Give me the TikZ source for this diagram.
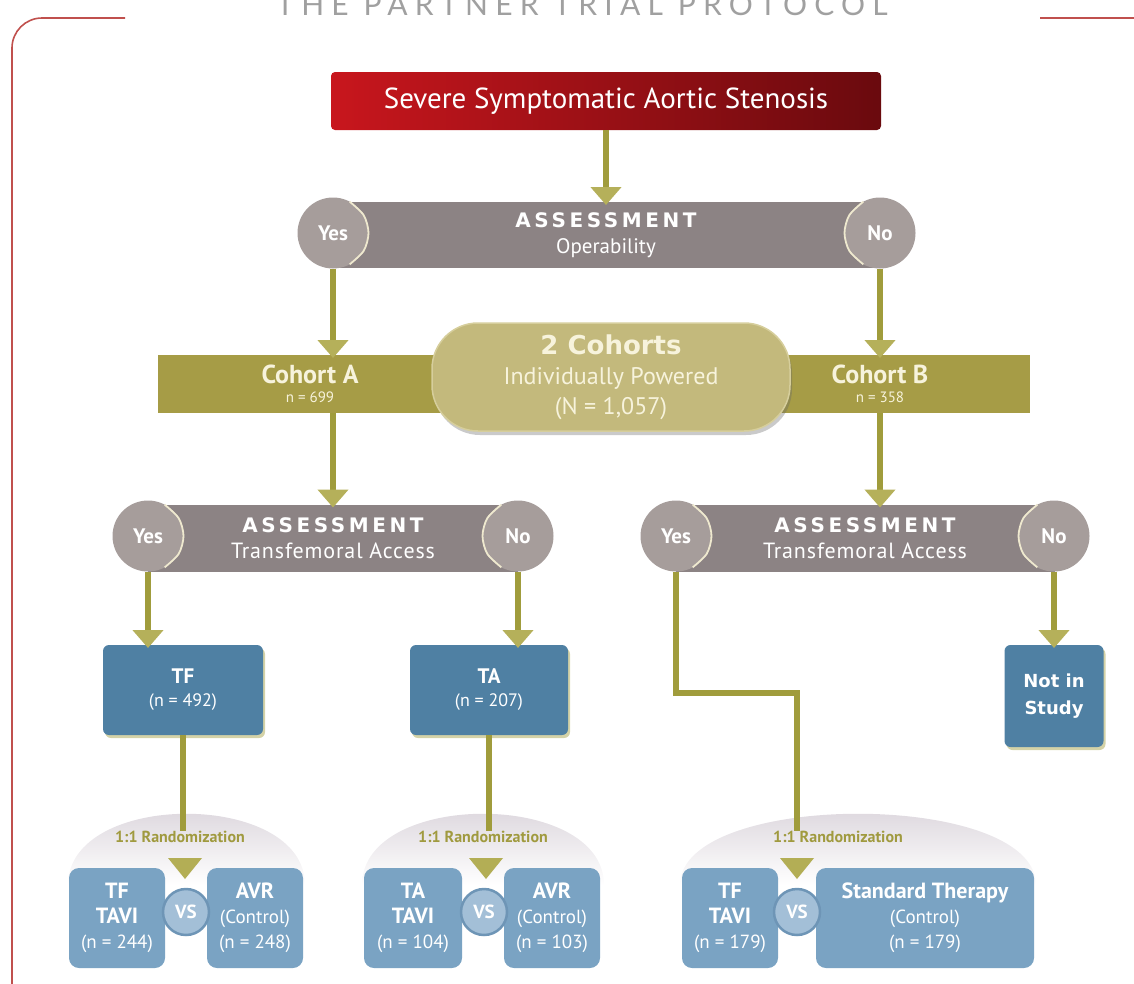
\documentclass[tikz,border=0pt]{standalone}
\usepackage{fontspec}
\setmainfont{PT Sans}
\newfontfamily\spacedfont[LetterSpace=18]{DejaVu Sans}
\newfontfamily\widefont{DejaVu Sans}
\newfontfamily\lsfont[LetterSpace=4]{PT Sans}
\newfontfamily\titlefont[LetterSpace=24]{Lato}
\usetikzlibrary{arrows.meta,shadows,calc}
\definecolor{redL}{HTML}{C8161D}
\definecolor{redR}{HTML}{6A0A0E}
\definecolor{barGrey}{HTML}{8C8384}
\definecolor{circGrey}{HTML}{A69D9B}
\definecolor{creamHL}{HTML}{EFE9CF}
\definecolor{oliveLine}{HTML}{A09C3C}
\definecolor{oliveHead}{HTML}{B5B05A}
\definecolor{cohBar}{HTML}{A69C46}
\definecolor{capsFill}{HTML}{C3B97C}
\definecolor{capsBorder}{HTML}{D6CE9C}
\definecolor{cohText}{HTML}{F7F3DC}
\definecolor{blueD}{HTML}{4F80A3}
\definecolor{blueL}{HTML}{7AA3C3}
\definecolor{vsFill}{HTML}{A3BFD7}
\definecolor{vsBorder}{HTML}{6E95B6}
\definecolor{randC}{HTML}{A09A3F}
\definecolor{triC}{HTML}{B3AE55}
\definecolor{domeC}{HTML}{D5CED6}
\definecolor{frameC}{HTML}{C0504D}
\definecolor{titleC}{HTML}{A0A0A0}
\newcommand\asmt{{\spacedfont\bfseries\fontsize{20}{22}\selectfont ASSESSMENT}}
\newcommand\bx[1]{{\bfseries\fontsize{22}{26}\selectfont #1}}
\begin{document}
\begin{tikzpicture}[x=1pt,y=-1pt,
  every node/.style={inner sep=0pt, outer sep=0pt},
  frameline/.style={draw=frameC, line width=1.6pt, rounded corners=30pt},
  titlestyle/.style={text=titleC, font=\titlefont\fontsize{30}{32}\selectfont},
  redbox/.style={rectangle, rounded corners=4pt, minimum width=550pt, minimum height=58pt,
     left color=redL, right color=redR, text=white, font=\fontsize{29}{32}\selectfont},
  greybar/.style={rectangle, fill=barGrey, minimum height=66pt, text=white, align=center,
     font=\fontsize{21}{26}\selectfont},
  yesno/.style={circle, minimum size=71pt, fill=circGrey, text=white,
     font=\bfseries\fontsize{21}{23}\selectfont},
  hl/.style={draw=creamHL, line width=1.8pt},
  cohbarst/.style={rectangle, fill=cohBar, minimum width=872pt, minimum height=58pt},
  cohlabel/.style={text=cohText, align=center, font=\fontsize{15}{19}\selectfont},
  capsule/.style={rectangle, rounded corners=46pt, minimum width=358pt, minimum height=108pt,
     fill=capsFill, draw=capsBorder, line width=1.5pt, text=cohText, align=center,
     font=\fontsize{24}{30}\selectfont,
     drop shadow={shadow xshift=2pt, shadow yshift=-4pt, opacity=.35, fill=black!60}},
  bluebox/.style={rectangle, rounded corners=6pt, fill=blueD, text=white, align=center,
     font=\fontsize{18}{23}\selectfont,
     drop shadow={shadow xshift=2pt, shadow yshift=-3pt, opacity=.45, fill=oliveLine}},
  lbox/.style={rectangle, rounded corners=10pt, fill=blueL, text=white, align=center,
     minimum height=100pt, font=\fontsize{19}{25}\selectfont},
  vsc/.style={circle, minimum size=46pt, fill=vsFill, draw=vsBorder, line width=2.5pt,
     text=white, font=\bfseries\fontsize{19}{21}\selectfont},
  randst/.style={text=randC, font=\bfseries\fontsize{16}{18}\selectfont},
  conn/.style={draw=oliveLine, line width=6pt},
  arr/.style={conn, -{Triangle[width=30pt,length=18pt,color=oliveHead]}, shorten >=-3pt},
]
\useasboundingbox (0,0) rectangle (1134,983);

% frame and title
\draw[frameline] (125,18) -- (12,18) -- (12,995);
\draw[frameline] (1040,18) -- (1140,18);
\node[titlestyle, anchor=base] (title) at (582,15) {THE PARTNER TRIAL PROTOCOL};

% randomization domes
\shade[top color=domeC, middle color=domeC!35, bottom color=white]
  (68,885) .. controls (68,790) and (305,790) .. (305,885) -- cycle;
\shade[top color=domeC, middle color=domeC!35, bottom color=white]
  (362,885) .. controls (362,790) and (604,790) .. (604,885) -- cycle;
\shade[top color=domeC, middle color=domeC!35, bottom color=white]
  (680,885) .. controls (680,790) and (1036,790) .. (1036,885) -- cycle;

% top box
\node[redbox] (sev) at (606,101) {Severe Symptomatic Aortic Stenosis};

% operability assessment
\node[greybar, minimum width=547pt] (op) at (606,235)
  {\asmt\\{Operability}};
\node[yesno] (yes1) at (333,233) {Yes};
\node[yesno] (no1) at (880,233) {No};
\draw[hl] plot[smooth] coordinates {(yes1.62) (yes1.30) (yes1.0) (yes1.-30) (yes1.-62)};
\draw[hl] plot[smooth] coordinates {(no1.118) (no1.150) (no1.180) (no1.210) (no1.242)};

% cohorts
\node[cohbarst] (cohbar) at (594,384) {};
\node[cohlabel] (cA) at (310,384) {{\bfseries\fontsize{26}{26}\selectfont Cohort A}\\n = 699};
\node[cohlabel] (cB) at (880,384) {{\bfseries\fontsize{26}{26}\selectfont Cohort B}\\n = 358};
\node[capsule] (caps) at (611,377)
  {{\widefont\bfseries\fontsize{26}{26}\selectfont 2 Cohorts}\\Individually Powered\\(N = 1,057)};

% transfemoral assessments
\node[greybar, minimum width=370pt, minimum height=67pt] (bar2L) at (333,538)
  {\asmt\\{\lsfont\fontsize{22}{26}\selectfont Transfemoral Access}};
\node[yesno] (yes2L) at (148,536) {Yes};
\node[yesno] (no2L) at (518,536) {No};
\draw[hl] plot[smooth] coordinates {(yes2L.62) (yes2L.30) (yes2L.0) (yes2L.-30) (yes2L.-62)};
\draw[hl] plot[smooth] coordinates {(no2L.118) (no2L.150) (no2L.180) (no2L.210) (no2L.242)};

\node[greybar, minimum width=379pt, minimum height=67pt] (bar2R) at (865,538)
  {\asmt\\{\lsfont\fontsize{22}{26}\selectfont Transfemoral Access}};
\node[yesno] (yes2R) at (676,536) {Yes};
\node[yesno] (no2R) at (1054,536) {No};
\draw[hl] plot[smooth] coordinates {(yes2R.62) (yes2R.30) (yes2R.0) (yes2R.-30) (yes2R.-62)};
\draw[hl] plot[smooth] coordinates {(no2R.118) (no2R.150) (no2R.180) (no2R.210) (no2R.242)};

% access boxes
\node[bluebox, minimum width=160pt, minimum height=90pt] (tf) at (183,690)
  {{\bfseries\fontsize{21}{23}\selectfont TF}\\(n = 492)};
\node[bluebox, minimum width=158pt, minimum height=90pt] (ta) at (489,690)
  {{\bfseries\fontsize{21}{23}\selectfont TA}\\(n = 207)};
\node[bluebox, minimum width=99pt, minimum height=102pt,
      font=\widefont\bfseries\fontsize{18}{27}\selectfont] (nis) at (1054,696)
  {Not in\\Study};

% randomization labels and markers
\node[randst] (rand1) at (180,837) {1:1 Randomization};
\node[randst] (rand2) at (483,837) {1:1 Randomization};
\node[randst] (rand3) at (838,837) {1:1 Randomization};
\coordinate (tri1) at (185,868);
\coordinate (tri2) at (486,868);
\coordinate (tri3) at (797,868);
\foreach \t in {tri1,tri2,tri3}
  \fill[triC] (\t) ++(-17,-10) -- ++(34,0) -- ++(-17,21) -- cycle;

% final arms
\node[lbox, minimum width=96pt] (b1) at (117,918)
  {\bx{TF}\\\bx{TAVI}\\(n = 244)};
\node[lbox, minimum width=96pt] (b2) at (255,918)
  {\bx{AVR}\\(Control)\\(n = 248)};
\node[vsc] (vs1) at (186,912) {VS};

\node[lbox, minimum width=98pt] (b3) at (413,918)
  {\bx{TA}\\\bx{TAVI}\\(n = 104)};
\node[lbox, minimum width=96pt] (b4) at (552,918)
  {\bx{AVR}\\(Control)\\(n = 103)};
\node[vsc] (vs2) at (484,912) {VS};

\node[lbox, minimum width=96pt] (b5) at (730,918)
  {\bx{TF}\\\bx{TAVI}\\(n = 179)};
\node[lbox, minimum width=218pt] (b6) at (925,918)
  {{\bfseries\fontsize{22}{25}\selectfont Standard Therapy}\\(Control)\\(n = 179)};
\node[vsc] (vs3) at (797,912) {VS};

% connectors
\draw[arr] (sev.south) -- (op.north);
\draw[arr] (yes1.south) -- (yes1.south |- cohbar.north);
\draw[arr] (no1.south) -- (no1.south |- cohbar.north);
\draw[arr] (yes1.south |- cohbar.south) -- (yes1.south |- bar2L.north);
\draw[arr] (no1.south |- cohbar.south) -- (no1.south |- bar2R.north);
\draw[arr] (yes2L.south) -- (yes2L.south |- tf.north);
\draw[arr] (no2L.south) -- (no2L.south |- ta.north);
\draw[arr] (no2R.south) -- (no2R.south |- nis.north);
\draw[conn] (tf.south) -- (tf.south |- rand1.north);
\draw[conn] (ta.south) -- (ta.south |- rand2.north);
\coordinate (bend3) at (797,693);
\draw[conn] (yes2R.south) |- (bend3) -- (bend3 |- rand3.north);
\end{tikzpicture}
\end{document}
